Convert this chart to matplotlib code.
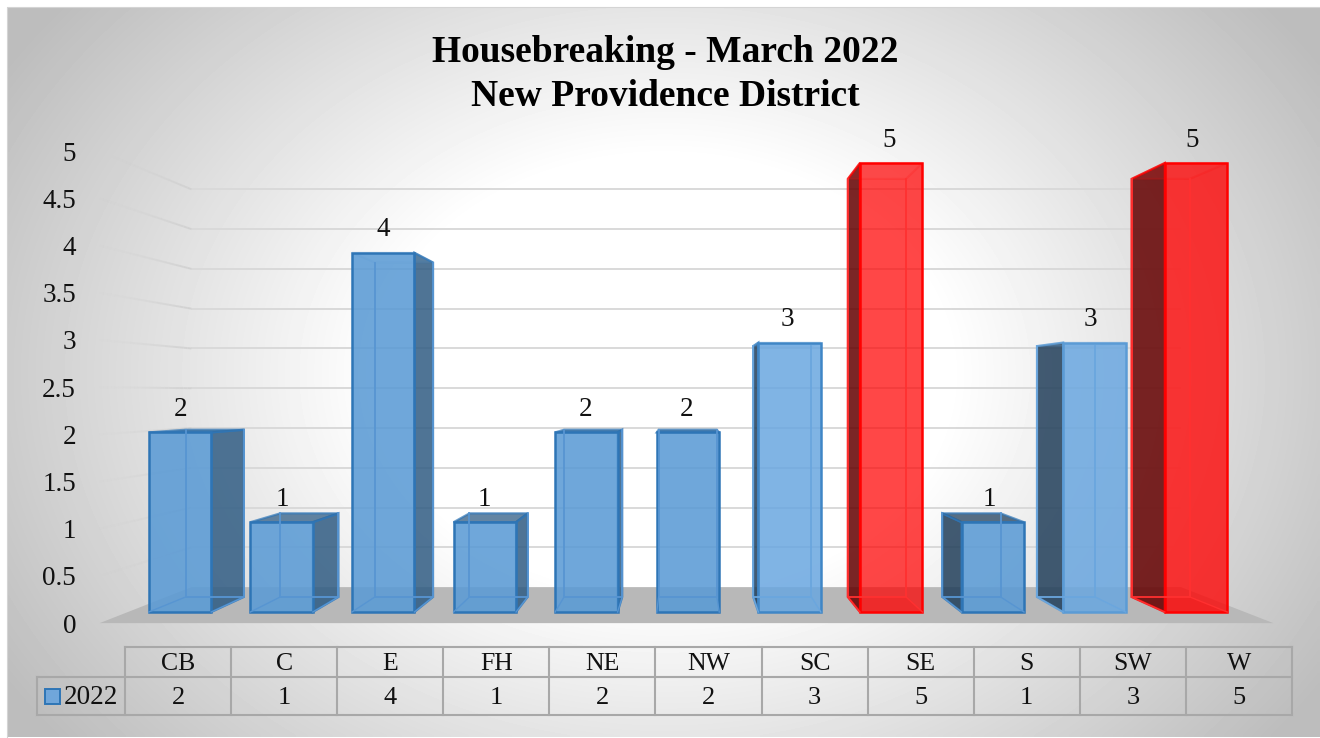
import numpy as np
import matplotlib
matplotlib.use('Agg')
import matplotlib.pyplot as plt
from matplotlib.patches import Polygon, Rectangle
from matplotlib.collections import LineCollection

plt.rcParams['font.family'] = ['Liberation Serif', 'DejaVu Serif']

categories = ['CB', 'C', 'E', 'FH', 'NE', 'NW', 'SC', 'SE', 'S', 'SW', 'W']
values = [2, 1, 4, 1, 2, 2, 3, 5, 1, 3, 5]
red_bars = ['SE', 'W']
light_bars = ['SC', 'SW']
y_ticks = [0, 0.5, 1, 1.5, 2, 2.5, 3, 3.5, 4, 4.5, 5]
y_tick_labels = ['0', '0.5', '1', '1.5', '2', '2.5', '3', '3.5', '4', '4.5', '5']
series_name = '2022'

W, H = 1320, 738
fig = plt.figure(figsize=(W / 100, H / 100), dpi=100, facecolor='white')

# background gradient
bg = fig.add_axes([7 / W, 0.5 / H, (W - 7) / W, (H - 7.5) / H])
bg.axis('off')
gx, gy = np.meshgrid(np.linspace(7, W, 330), np.linspace(7, H, 180))
r = np.sqrt(((gx - 665) / 680) ** 2 + ((gy - 375) / 520) ** 2)
shade = np.clip(1 - 0.26 * np.clip((r - 0.42) / 0.72, 0, 1), 0, 1)
bg.imshow(shade, cmap='gray', vmin=0, vmax=1, aspect='auto', interpolation='bilinear')
fig.add_artist(plt.Line2D([7 / W, 7 / W, 1], [1 - 738 / H, 1 - 7 / H, 1 - 7 / H], color='#d4d4d4', lw=0.8))

# main axes: x is the category index, y the value on the front plane of the bars
px_cat, px_val = 101.6, 89.8
x0_px, y0_px = 180, 612
ax = fig.add_axes([0, 0, 1, 1])
ax.patch.set_alpha(0)
ax.set_xlim(-x0_px / px_cat, (W - x0_px) / px_cat)
ax.set_ylim((y0_px - H) / px_val, y0_px / px_val)
ax.axis('off')

# perspective: scale towards a vanishing point
vx, vy = 4.96, 2.43
bar_w = 0.615
s_back = 0.931
s_wall = 0.886
s_edge = 1.051
floor_l, floor_r = -0.512, 10.48


def proj(x, v, s):
    return (vx + (x - vx) * s, vy + (v - vy) * s)


# floor
floor = [proj(floor_l, 0, s_edge), proj(floor_r, 0, s_edge), proj(floor_r, 0, s_wall), proj(floor_l, 0, s_wall)]
ax.add_patch(Polygon(floor, closed=True, fc='#b8b8b8', ec='none', zorder=1))

# gridlines on back wall and fading on side wall
for t in y_ticks[1:]:
    xa, ya = proj(floor_l, t, s_wall)
    xb, yb = proj(floor_r, t, s_wall)
    ax.plot([xa, xb], [ya, yb], color='#d9d9d9', lw=1.4, zorder=2, solid_capstyle='butt')
    ss = np.linspace(s_wall, s_edge, 25)
    pts = [proj(floor_l, t, k) for k in ss]
    segs = [[pts[k], pts[k + 1]] for k in range(len(pts) - 1)]
    cols = [(0.82, 0.82, 0.82, 0.95 * (1 - k / len(segs)) ** 1.3) for k in range(len(segs))]
    ax.add_collection(LineCollection(segs, colors=cols, linewidths=1.4, zorder=2))

# y labels
for t, lab in zip(y_ticks, y_tick_labels):
    x_lab = (76 - x0_px) / px_cat
    ax.text(x_lab, proj(0, t, s_edge)[1] - 3 / px_val, lab, ha='right', va='center', fontsize=19.5, color='#111111', zorder=8)

# bars
for i, (cat, v) in enumerate(zip(categories, values)):
    if cat in red_bars:
        edge, front, side, alpha_f = '#ff0000', '#ff0000', '#5e0000', 0.66 if cat == 'SE' else 0.72
        inner = '#ff3030'
    elif cat in light_bars:
        edge, front, side, alpha_f = '#3f86c6' if cat == 'SC' else '#5b9bd5', '#6aa7e0', '#1f3b55', 0.82
        inner = '#6aa6de'
    else:
        edge, front, side, alpha_f = '#2e75b6', '#5b9bd5', '#2f5a80' if i < 6 else '#1f3b55', 0.85
        inner = '#5795d2'
    l, rr = i - bar_w / 2, i + bar_w / 2
    # back, floor of the bar
    ax.add_patch(Polygon([proj(l, 0, s_back), proj(rr, 0, s_back), proj(rr, v, s_back), proj(l, v, s_back)],
                         closed=True, fc=front, alpha=0.18, ec='none', zorder=3))
    ax.add_patch(Polygon([proj(l, 0, 1), proj(rr, 0, 1), proj(rr, 0, s_back), proj(l, 0, s_back)],
                         closed=True, fc=front, ec='none', alpha=0.3, zorder=3))
    # visible side, the other one only shows through the front
    side_x = rr if i < vx else l
    hidden_x = l if i < vx else rr
    ax.add_patch(Polygon([proj(hidden_x, 0, 1), proj(hidden_x, v, 1), proj(hidden_x, v, s_back), proj(hidden_x, 0, s_back)],
                         closed=True, fc=front, alpha=0.18, ec='none', zorder=3))
    if abs(i - vx) > 0.5:
        ax.add_patch(Polygon([proj(side_x, 0, 1), proj(side_x, v, 1), proj(side_x, v, s_back), proj(side_x, 0, s_back)],
                             closed=True, fc=side, alpha=0.82, ec=edge, lw=1.6, zorder=4))
    # top
    ax.add_patch(Polygon([proj(l, v, 1), proj(rr, v, 1), proj(rr, v, s_back), proj(l, v, s_back)],
                         closed=True, fc=side if v < vy else front, alpha=0.7 if v < vy else 0.15, ec=edge, lw=1.6, zorder=4))
    # inner edges seen through the front
    bl, br = proj(l, 0, s_back), proj(rr, 0, s_back)
    tl, tr = proj(l, v, s_back), proj(rr, v, s_back)
    ax.plot([tl[0], bl[0], br[0], tr[0]], [tl[1], bl[1], br[1], tr[1]], color=inner, lw=1.3, zorder=6)
    ax.plot([proj(l, 0, 1)[0], bl[0]], [0, bl[1]], color=inner, lw=1.0, zorder=6)
    ax.plot([proj(rr, 0, 1)[0], br[0]], [0, br[1]], color=inner, lw=1.0, zorder=6)
    # front
    ax.bar(i, v, width=bar_w, color=matplotlib.colors.to_rgba(front, alpha_f), edgecolor=edge, linewidth=1.8, zorder=5)
    # data label
    ax.annotate(str(v), (proj(i, v, 0.995)[0] - 1.5 / px_cat, v), xytext=(0, 16.5), textcoords='offset points',
                ha='center', va='center', fontsize=19.5, color='#111111', zorder=8)

# title
ax.text(proj(4.775, 0, 1)[0], (y0_px - 53) / px_val, 'Housebreaking - March 2022', ha='center', va='center',
        fontsize=27, fontweight='bold', color='black', zorder=8)
ax.text(proj(4.775, 0, 1)[0], (y0_px - 96) / px_val, 'New Providence District', ha='center', va='center',
        fontsize=27, fontweight='bold', color='black', zorder=8)

# data table
tab = fig.add_axes([125 / W, 1 - 715 / H, (1292 - 125) / W, 68 / H])
tab.patch.set_alpha(0)
tab.set_xlim(0, len(categories))
tab.set_ylim(68, 0)
tab.axis('off')
line_col = '#a8a8a8'
row_head, row_val = 17, 51
for k in range(len(categories) + 1):
    tab.plot([k, k], [0, 68], color=line_col, lw=1.5, clip_on=False)
tab.plot([0, len(categories)], [0, 0], color=line_col, lw=1.5, clip_on=False)
leg_l = -88 / ((1292 - 125) / len(categories))
tab.plot([leg_l, len(categories)], [30, 30], color=line_col, lw=1.5, clip_on=False)
tab.plot([leg_l, len(categories)], [68, 68], color=line_col, lw=1.5, clip_on=False)
tab.plot([leg_l, leg_l], [30, 68], color=line_col, lw=1.5, clip_on=False)
for k, (cat, v) in enumerate(zip(categories, values)):
    tab.text(k + 0.5, row_head, cat, ha='center', va='center', fontsize=18.5, color='#111111')
    tab.text(k + 0.5, row_val, str(v), ha='center', va='center', fontsize=19, color='#111111')
unit = (1292 - 125) / len(categories)
tab.add_patch(Rectangle((-80 / unit, 42), 15 / unit, 15, fc='#70a6da', ec='#2e75b6', lw=1.4, clip_on=False, zorder=5))
tab.text(-7 / unit, row_val, series_name, ha='right', va='center', fontsize=19.5, color='#111111', clip_on=False)

fig.savefig('out.png', dpi=100)
